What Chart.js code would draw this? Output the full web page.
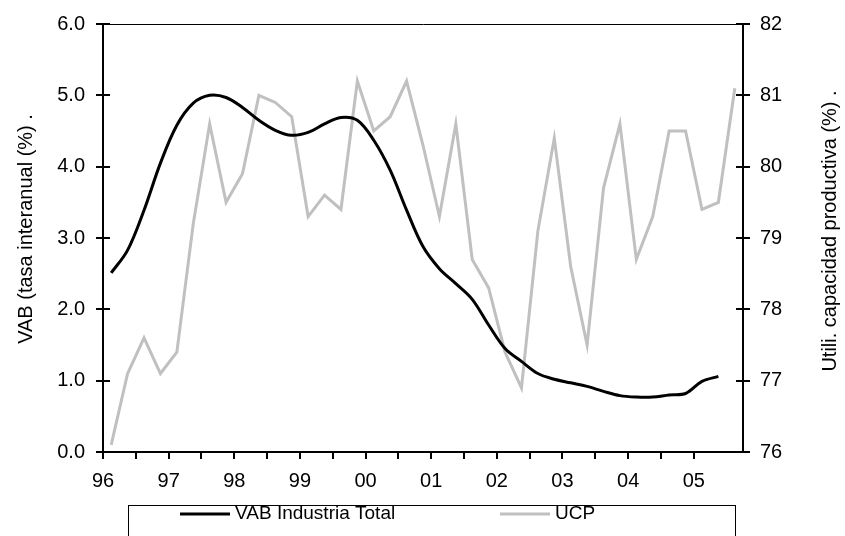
<!DOCTYPE html>
<html>
<head>
<meta charset="utf-8">
<script src="https://cdn.jsdelivr.net/npm/chart.js@4.4.1/dist/chart.umd.min.js"></script>
<style>
    html, body { margin: 0; padding: 0; background: #fff; }
    #wrap { width: 845px; height: 536px; }
</style>
</head>
<body>
<div id="wrap"><canvas id="myChart" width="845" height="536"></canvas></div>
<script>
// trimestres 96-I ... 05-III
const quarters = [
    '96-I', '96-II', '96-III', '96-IV', '97-I', '97-II', '97-III', '97-IV',
    '98-I', '98-II', '98-III', '98-IV', '99-I', '99-II', '99-III', '99-IV',
    '00-I', '00-II', '00-III', '00-IV', '01-I', '01-II', '01-III', '01-IV',
    '02-I', '02-II', '02-III', '02-IV', '03-I', '03-II', '03-III', '03-IV',
    '04-I', '04-II', '04-III', '04-IV', '05-I', '05-II', '05-III'
];
const yearLabels = ['96', '97', '98', '99', '00', '01', '02', '03', '04', '05'];
const vab = [
    2.51, 2.83, 3.39, 4.05, 4.58, 4.89, 5.00, 4.97,
    4.83, 4.65, 4.51, 4.44, 4.48, 4.60, 4.69, 4.65,
    4.37, 3.95, 3.39, 2.88, 2.57, 2.36, 2.14, 1.78,
    1.45, 1.27, 1.10, 1.02, 0.97, 0.92, 0.85, 0.79,
    0.77, 0.77, 0.80, 0.82, 0.99, 1.06, null
];
const ucp = [
    76.1, 77.1, 77.6, 77.1, 77.4, 79.2, 80.6, 79.5,
    79.9, 81.0, 80.9, 80.7, 79.3, 79.6, 79.4, 81.2,
    80.5, 80.7, 81.2, 80.3, 79.3, 80.6, 78.7, 78.3,
    77.4, 76.9, 79.1, 80.4, 78.6, 77.5, 79.7, 80.6,
    78.7, 79.3, 80.5, 80.5, 79.4, 79.5, 81.1
];
const leftTitle = 'VAB (tasa interanual (%) .';
const rightTitle = 'Utili. capacidad productiva (%) .';

const fontName = '"Liberation Sans", Arial, sans-serif';
const fontSize = 20;
const legendSize = 19;
Chart.defaults.font.family = fontName;
Chart.defaults.font.size = fontSize;
Chart.defaults.color = '#000';

// each quarter sits in the middle of its slot
function toPoints(values) {
    return values.map((v, i) => ({ x: i + 0.5, y: v }));
}

function drawUpText(ctx, text, x, y) {
    ctx.save();
    ctx.translate(x, y);
    ctx.rotate(-Math.PI / 2);
    ctx.fillText(text, 0, 0);
    ctx.restore();
}

const extraDraw = {
    id: 'extraDraw',
    afterDraw(chart) {
        let ctx = chart.ctx;
        let area = chart.chartArea;
        ctx.save();

        // ticks cross the y axes: draw the inner half
        ctx.strokeStyle = '#000';
        ctx.lineWidth = 2;
        ['y', 'y1'].forEach(id => {
            let s = chart.scales[id];
            let x0 = id === 'y' ? area.left : area.right;
            let dir = id === 'y' ? 1 : -1;
            s.ticks.forEach(t => {
                let py = Math.round(s.getPixelForValue(t.value));
                ctx.beginPath();
                ctx.moveTo(x0, py);
                ctx.lineTo(x0 + dir * 7, py);
                ctx.stroke();
            });
        });

        // axis titles, both read upwards
        ctx.fillStyle = '#000';
        ctx.font = fontSize + 'px ' + fontName;
        ctx.textAlign = 'center';
        ctx.textBaseline = 'middle';
        drawUpText(ctx, leftTitle, 26, 229);
        drawUpText(ctx, rightTitle, 830, 231);

        // legend box
        ctx.lineWidth = 1;
        ctx.strokeRect(128.5, 505.5, 607, 40);
        ctx.font = legendSize + 'px ' + fontName;
        let slots = [180, 500];
        chart.data.datasets.forEach((ds, i) => {
            let lx = slots[i];
            ctx.strokeStyle = ds.borderColor;
            ctx.lineWidth = 3;
            ctx.beginPath();
            ctx.moveTo(lx, 514);
            ctx.lineTo(lx + 50, 514);
            ctx.stroke();
            ctx.textAlign = 'left';
            ctx.fillText(ds.label, lx + 55, 514);
        });
        ctx.restore();
    }
};

new Chart(document.getElementById('myChart'), {
    type: 'line',
    data: {
        datasets: [{
            label: 'VAB Industria Total',
            data: toPoints(vab),
            yAxisID: 'y',
            borderColor: '#000000',
            backgroundColor: '#000000',
            borderWidth: 3,
            pointRadius: 0,
            tension: 0.35,
            spanGaps: false
        }, {
            label: 'UCP',
            data: toPoints(ucp),
            yAxisID: 'y1',
            borderColor: '#c0c0c0',
            backgroundColor: '#c0c0c0',
            borderWidth: 3,
            pointRadius: 0,
            tension: 0
        }]
    },
    options: {
        responsive: false,
        animation: false,
        layout: { padding: { top: 24, left: 0, right: 0, bottom: 0 } },
        plugins: {
            legend: { display: false },
            tooltip: { enabled: false }
        },
        scales: {
            x: {
                type: 'linear',
                position: 'bottom',
                min: 0,
                max: quarters.length,
                afterBuildTicks: (scale) => {
                    scale.ticks = scale.ticks.filter(t => t.value % 2 === 0);
                },
                afterFit: (scale) => { scale.height = 84; },
                ticks: {
                    stepSize: 2,
                    autoSkip: false,
                    maxRotation: 0,
                    padding: 10,
                    callback: (v) => (v % 4 === 0 ? yearLabels[v / 4] : '')
                },
                grid: { drawOnChartArea: false, tickLength: 7, color: '#000', lineWidth: 2 },
                border: { color: '#000', width: 2 }
            },
            xTop: {
                type: 'linear',
                position: 'top',
                min: 0,
                max: quarters.length,
                afterFit: (scale) => { scale.height = 0; },
                ticks: { display: false },
                grid: { display: false },
                border: { color: '#000', width: 1 }
            },
            y: {
                position: 'left',
                min: 0,
                max: 6,
                afterFit: (scale) => { scale.width = 103; },
                ticks: { stepSize: 1, padding: 11, callback: (v) => v.toFixed(1) },
                grid: { drawOnChartArea: false, tickLength: 7, color: '#000', lineWidth: 2 },
                border: { color: '#000', width: 2 }
            },
            y1: {
                position: 'right',
                min: 76,
                max: 82,
                afterFit: (scale) => { scale.width = 102; },
                ticks: { stepSize: 1, padding: 10 },
                grid: { drawOnChartArea: false, tickLength: 7, color: '#000', lineWidth: 2 },
                border: { color: '#000', width: 2 }
            }
        }
    },
    plugins: [extraDraw]
});
</script>
</body>
</html>
